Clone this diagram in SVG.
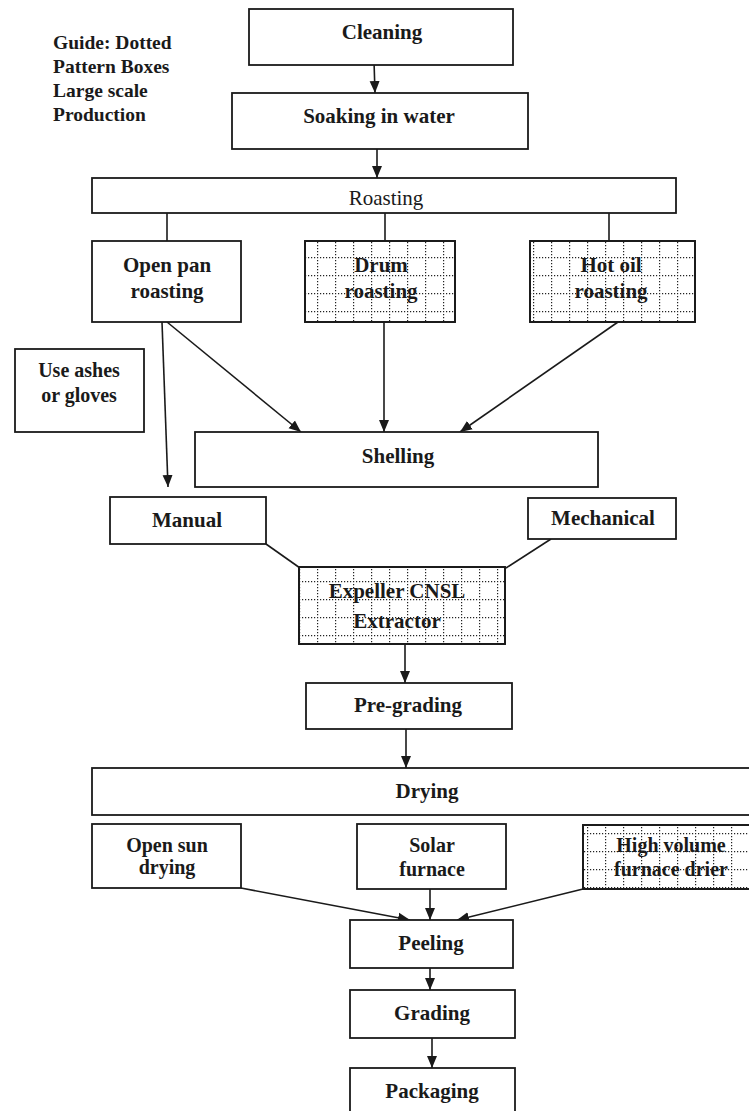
<svg xmlns="http://www.w3.org/2000/svg" width="749" height="1111" viewBox="0 0 749 1111">
<style>
.box{fill:#fff;stroke:#1a1a1a;stroke-width:1.8}
.dot{fill:url(#grid);stroke:#1a1a1a;stroke-width:1.8}
.t{font-family:"Liberation Serif","Times New Roman",serif;font-weight:bold;font-size:21px;fill:#1a1a1a;text-anchor:middle}
.s{font-size:20px}
.r{font-weight:normal}
.g{font-family:"Liberation Serif","Times New Roman",serif;font-weight:bold;font-size:19.5px;fill:#1a1a1a}
.c{stroke:#1a1a1a;stroke-width:1.6;fill:none}
.a{marker-end:url(#ah)}
</style>
<defs>
<marker id="ah" markerUnits="userSpaceOnUse" markerWidth="13" markerHeight="13" viewBox="0 0 13 13" refX="12" refY="6.5" orient="auto">
<path d="M0,1.5 L12,6.5 L0,11.5 Z" fill="#1a1a1a"/>
</marker>
<pattern id="grid" patternUnits="userSpaceOnUse" x="11" y="5" width="18" height="18">
<rect width="18" height="18" fill="none"/>
<path d="M0,0.5 H18 M0.5,0 V18" stroke="#222" stroke-width="1.4" stroke-dasharray="1.2 1.8"/>
</pattern>
</defs>

<g id="guide">
<text class="g" x="53" y="49">Guide: Dotted</text>
<text class="g" x="53" y="73">Pattern Boxes</text>
<text class="g" x="53" y="97">Large scale</text>
<text class="g" x="53" y="121">Production</text>
</g>

<g id="connectors">
<line class="c a" x1="374" y1="61" x2="375" y2="93"/>
<line class="c a" x1="377" y1="149" x2="377" y2="178"/>
<line class="c" x1="167" y1="213" x2="167" y2="241"/>
<line class="c" x1="385" y1="213" x2="385" y2="241"/>
<line class="c" x1="609" y1="213" x2="609" y2="241"/>
<line class="c a" x1="162" y1="322" x2="168" y2="487"/>
<line class="c a" x1="167" y1="322" x2="301" y2="432"/>
<line class="c a" x1="384" y1="322" x2="384" y2="432"/>
<line class="c a" x1="618" y1="322" x2="460" y2="432"/>
<line class="c" x1="266" y1="544" x2="300" y2="568"/>
<line class="c" x1="551" y1="539" x2="506" y2="568"/>
<line class="c a" x1="405" y1="644" x2="405" y2="683"/>
<line class="c a" x1="406" y1="729" x2="406" y2="768"/>
<line class="c a" x1="241" y1="888" x2="410" y2="920"/>
<line class="c a" x1="430" y1="889" x2="430" y2="920"/>
<line class="c a" x1="583" y1="889" x2="457" y2="920"/>
<line class="c a" x1="430" y1="968" x2="430" y2="990"/>
<line class="c a" x1="432" y1="1038" x2="432" y2="1068"/>
</g>

<g id="cleaning">
<rect class="box" x="249" y="9" width="264" height="56"/>
<text class="t" x="382" y="39">Cleaning</text>
</g>
<g id="soaking">
<rect class="box" x="232" y="93" width="296" height="56"/>
<text class="t" x="379" y="123">Soaking in water</text>
</g>
<g id="roasting">
<rect class="box" x="92" y="178" width="584" height="35"/>
<text class="t r" x="386" y="205">Roasting</text>
</g>
<g id="open-pan">
<rect class="box" x="92" y="241" width="149" height="81"/>
<text class="t" x="167" y="272">Open pan</text>
<text class="t" x="167" y="298">roasting</text>
</g>
<g id="drum">
<rect class="box" x="305" y="241" width="150" height="81"/>
<text class="t" x="381" y="272">Drum</text>
<text class="t" x="381" y="298">roasting</text>
<rect class="dot" x="305" y="241" width="150" height="81"/>
</g>
<g id="hot-oil">
<rect class="box" x="530" y="241" width="165" height="81"/>
<text class="t" x="611" y="272">Hot oil</text>
<text class="t" x="611" y="298">roasting</text>
<rect class="dot" x="530" y="241" width="165" height="81"/>
</g>
<g id="ashes">
<rect class="box" x="15" y="349" width="129" height="83"/>
<text class="t s" x="79" y="377">Use ashes</text>
<text class="t s" x="79" y="402">or gloves</text>
</g>
<g id="shelling">
<rect class="box" x="195" y="432" width="403" height="55"/>
<text class="t" x="398" y="463">Shelling</text>
</g>
<g id="manual">
<rect class="box" x="110" y="497" width="156" height="47"/>
<text class="t" x="187" y="527">Manual</text>
</g>
<g id="mechanical">
<rect class="box" x="528" y="498" width="148" height="41"/>
<text class="t" x="603" y="525">Mechanical</text>
</g>
<g id="expeller">
<rect class="box" x="299" y="567" width="206" height="77"/>
<text class="t" x="397" y="598">Expeller CNSL</text>
<text class="t" x="397" y="628">Extractor</text>
<rect class="dot" x="299" y="567" width="206" height="77"/>
</g>
<g id="pre-grading">
<rect class="box" x="306" y="683" width="206" height="46"/>
<text class="t" x="408" y="712">Pre-grading</text>
</g>
<g id="drying">
<rect class="box" x="92" y="768" width="700" height="47"/>
<text class="t" x="427" y="798">Drying</text>
</g>
<g id="open-sun">
<rect class="box" x="92" y="824" width="149" height="64"/>
<text class="t s" x="167" y="852">Open sun</text>
<text class="t s" x="167" y="874">drying</text>
</g>
<g id="solar">
<rect class="box" x="357" y="824" width="149" height="65"/>
<text class="t s" x="432" y="852">Solar</text>
<text class="t s" x="432" y="876">furnace</text>
</g>
<g id="high-volume">
<rect class="box" x="583" y="825" width="200" height="64"/>
<text class="t s" x="671" y="852">High volume</text>
<text class="t s" x="671" y="876">furnace drier</text>
<rect class="dot" x="583" y="825" width="200" height="64"/>
</g>
<g id="peeling">
<rect class="box" x="350" y="920" width="163" height="48"/>
<text class="t" x="431" y="950">Peeling</text>
</g>
<g id="grading">
<rect class="box" x="350" y="990" width="165" height="48"/>
<text class="t" x="432" y="1020">Grading</text>
</g>
<g id="packaging">
<rect class="box" x="350" y="1068" width="165" height="60"/>
<text class="t" x="432" y="1098">Packaging</text>
</g>
</svg>
